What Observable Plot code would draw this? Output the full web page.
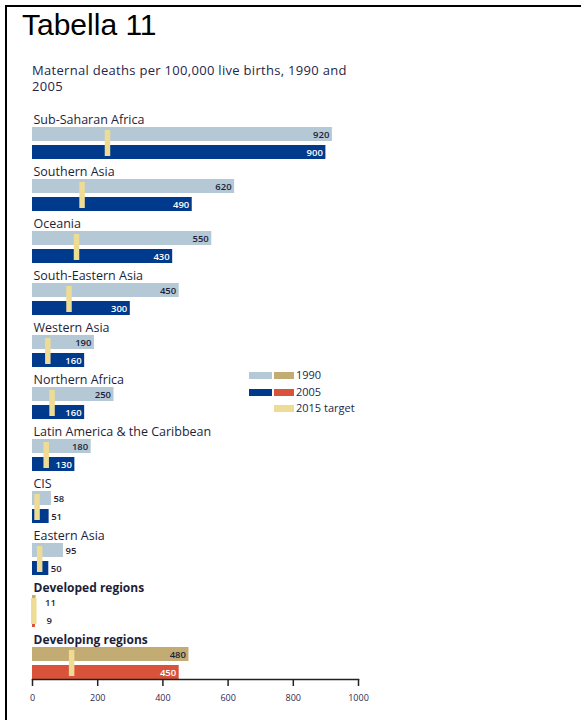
<!DOCTYPE html>
<html>
<head>
<meta charset="utf-8">
<script src="https://cdn.jsdelivr.net/npm/d3@7"></script>
<script src="https://cdn.jsdelivr.net/npm/@observablehq/plot@0.6"></script>
<style>
  html, body { margin: 0; padding: 0; background: #fff; }
  #page { position: relative; width: 581px; height: 720px; overflow: hidden; }
  #frame { position: absolute; left: 5px; top: 5px; width: 600px; height: 740px;
           border-top: 2px solid #000; border-left: 2px solid #000; }
  #title { position: absolute; left: 22px; top: 8px; font-family: "Liberation Sans", Arial, sans-serif;
           font-size: 30px; color: #000; }
  #subtitle { position: absolute; left: 32px; top: 62px; width: 330px; font-family: "Open Sans", sans-serif;
              font-size: 13px; letter-spacing: 0.3px; line-height: 16px; color: #26264a; }
  #chart { position: absolute; left: 0; top: 100px; }
  .leg { position: absolute; font-family: "Open Sans", sans-serif; font-size: 11px; color: #26264a; }
  .sw { position: absolute; height: 7px; }
</style>
</head>
<body>
<div id="page">
  <div id="frame"></div>
  <div id="title">Tabella 11</div>
  <div id="subtitle">Maternal deaths per 100,000 live births, 1990 and 2005</div>
  <div id="chart"></div>
  <div id="legend"></div>
</div>
<script>
const regions = ["Sub-Saharan Africa", "Southern Asia", "Oceania", "South-Eastern Asia", "Western Asia",
  "Northern Africa", "Latin America & the Caribbean", "CIS", "Eastern Asia", "Developed regions", "Developing regions"];
const values1990 = [920, 620, 550, 450, 190, 250, 180, 58, 95, 11, 480];
const values2005 = [900, 490, 430, 300, 160, 160, 130, 51, 50, 9, 450];
const target2015 = [230, 152, 135, 112, 47, 60, 42, 14, 22, 4, 120];
const aggregates = ["Developed regions", "Developing regions"];
const xTicks = [0, 200, 400, 600, 800, 1000];
const legendLabels = ["1990", "2005", "2015 target"];

const C = {
  reg1990: "#b4c9d5", reg2005: "#003a8c",
  agg1990: "#c3ab74", agg2005: "#d9533b",
  target: "#eedb94", dark: "#1e1e38"
};

const rows = regions.map((r, i) => ({
  region: r, v1990: values1990[i], v2005: values2005[i], target: target2015[i],
  agg: aggregates.includes(r)
}));

const big1990 = rows.filter(d => d.v1990 >= 150);
const big2005 = rows.filter(d => d.v2005 >= 100);
const small = rows.filter(d => !d.agg && d.v1990 < 150);
const tiny = rows.filter(d => d.agg && d.v1990 < 150);

const VAL = 9.5;

const chart = Plot.plot({
  width: 581,
  height: 620,
  marginLeft: 32,
  marginRight: 223,
  marginTop: 27,
  marginBottom: 41,
  style: { fontFamily: "Open Sans, sans-serif", background: "transparent" },
  x: { domain: [0, 1000], axis: null },
  y: { type: "band", domain: regions, paddingInner: 20 / 52, paddingOuter: 0, axis: null },
  marks: [
    Plot.barX(rows, { x: "v1990", y: "region", insetBottom: 18,
      fill: d => d.agg ? C.agg1990 : C.reg1990 }),
    Plot.barX(rows, { x: "v2005", y: "region", insetTop: 18,
      fill: d => d.agg ? C.agg2005 : C.reg2005 }),
    Plot.tickX(rows, { x: "target", y: "region", stroke: C.target, strokeWidth: 5.5,
      insetTop: 3, insetBottom: 3 }),
    // region labels
    Plot.text(rows.filter(d => !d.agg), { x: () => 0, y: "region", text: "region", textAnchor: "start",
      dx: 1, dy: -23.5, fontSize: 12.5, fill: C.dark }),
    Plot.text(rows.filter(d => d.agg), { x: () => 0, y: "region", text: "region", textAnchor: "start",
      dx: 1, dy: -23.5, fontSize: 12, fontWeight: "bold", fill: C.dark }),
    // value labels
    Plot.text(big1990, { x: "v1990", y: "region", text: d => String(d.v1990), textAnchor: "end",
      dx: -3, dy: -9, fontSize: VAL, fontWeight: 600, fill: C.dark }),
    Plot.text(big2005, { x: "v2005", y: "region", text: d => String(d.v2005), textAnchor: "end",
      dx: -3, dy: 9, fontSize: VAL, fontWeight: 600, fill: "white" }),
    Plot.text(small, { x: "v1990", y: "region", text: d => String(d.v1990), textAnchor: "start",
      dx: 2, dy: -9, fontSize: VAL, fontWeight: 600, fill: C.dark }),
    Plot.text(small, { x: "v2005", y: "region", text: d => String(d.v2005), textAnchor: "start",
      dx: 2, dy: 9, fontSize: VAL, fontWeight: 600, fill: C.dark }),
    Plot.text(tiny, { x: "v1990", y: "region", text: d => String(d.v1990), textAnchor: "start",
      dx: 9, dy: -9, fontSize: VAL, fontWeight: 600, fill: C.dark }),
    Plot.text(tiny, { x: "v2005", y: "region", text: d => String(d.v2005), textAnchor: "start",
      dx: 11, dy: 9, fontSize: VAL, fontWeight: 600, fill: C.dark }),
    // axis
    Plot.frame({ anchor: "bottom", stroke: "#222", strokeWidth: 1.5 }),
    Plot.axisX(xTicks, { anchor: "bottom", tickSize: 7, tickPadding: 8, strokeWidth: 1.5,
      stroke: "#222", fill: "#2a2a55", fontSize: 9, tickFormat: d => String(d) })
  ]
});
document.getElementById("chart").appendChild(chart);

// legend
const legend = document.getElementById("legend");
const legRows = [
  { label: legendLabels[0], sw: [C.reg1990, C.agg1990], top: 372 },
  { label: legendLabels[1], sw: [C.reg2005, C.agg2005], top: 389 },
  { label: legendLabels[2], sw: [null, C.target], top: 405 }
];
legRows.forEach(r => {
  if (r.sw[0]) {
    const s = document.createElement("div");
    s.className = "sw";
    s.style.cssText = `left:249px;top:${r.top}px;width:23px;background:${r.sw[0]}`;
    legend.appendChild(s);
  }
  const s2 = document.createElement("div");
  s2.className = "sw";
  s2.style.cssText = `left:274px;top:${r.top}px;width:20px;background:${r.sw[1]}`;
  legend.appendChild(s2);
  const t = document.createElement("div");
  t.className = "leg";
  t.textContent = r.label;
  t.style.cssText = `left:296px;top:${r.top - 5}px`;
  legend.appendChild(t);
});
</script>
</body>
</html>
